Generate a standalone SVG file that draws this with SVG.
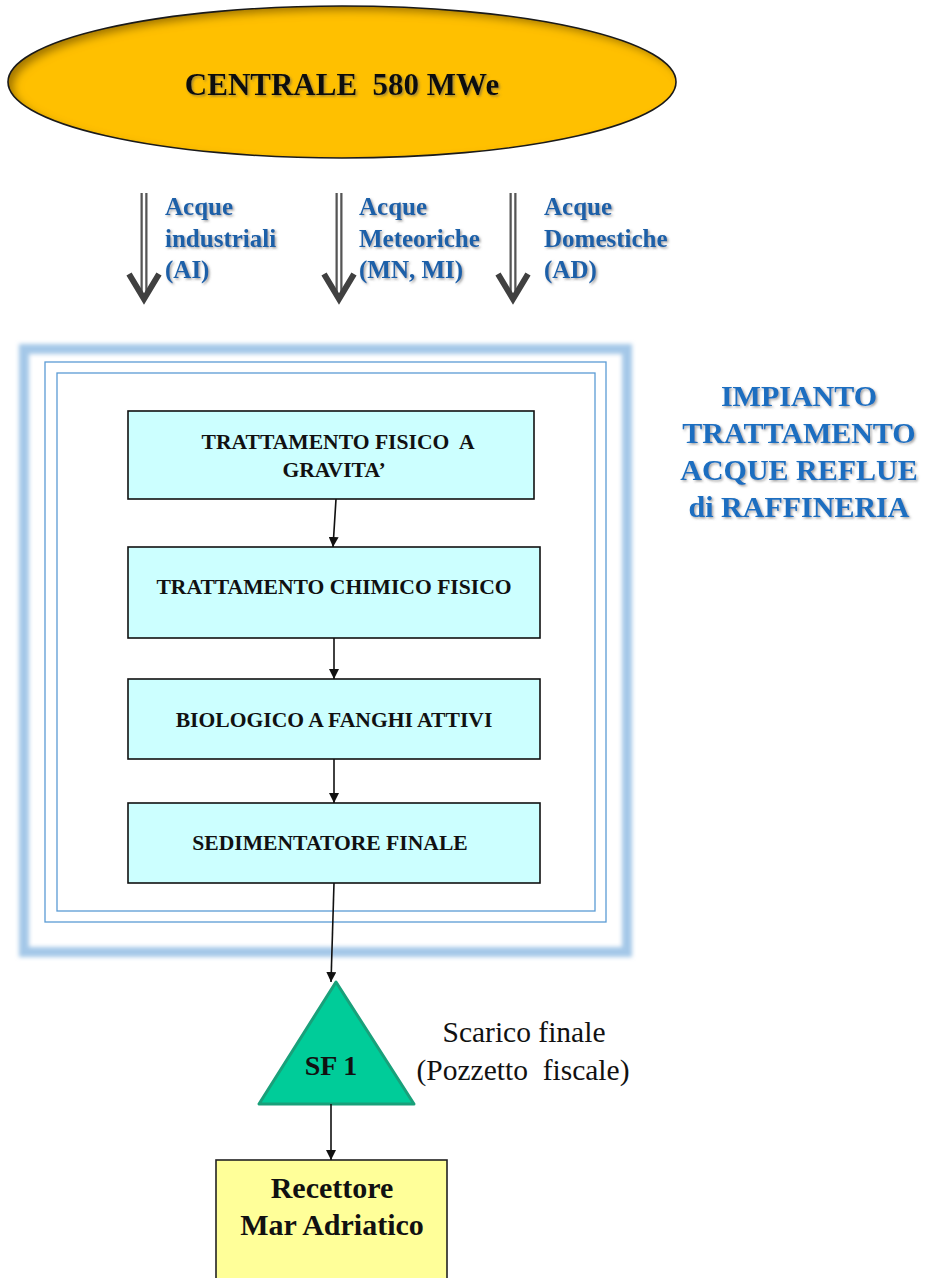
<svg xmlns="http://www.w3.org/2000/svg" width="925" height="1278" viewBox="0 0 925 1278">
<defs>
<style>
.serif{font-family:"Liberation Serif","Times New Roman",serif}
.b{font-weight:bold}
.box{fill:#CCFFFF;stroke:#111;stroke-width:1.6}
.boxt{font-family:"Liberation Serif","Times New Roman",serif;font-weight:bold;font-size:21.6px;fill:#111;text-anchor:middle}
.lbl{font-family:"Liberation Serif","Times New Roman",serif;font-weight:bold;font-size:25px;fill:#1E60A8}
.title{font-family:"Liberation Serif","Times New Roman",serif;font-weight:bold;font-size:30px;fill:#1A6EC0;text-anchor:middle}
.conn{stroke:#111;stroke-width:1.6;fill:none;marker-end:url(#ah)}
.shaft{stroke:#555;stroke-width:7;fill:none}
.shaftin{stroke:#fff;stroke-width:2.5;fill:none}
.chev{stroke:#404040;stroke-width:6;fill:none;stroke-linejoin:miter;stroke-linecap:butt}
</style>
<marker id="ah" viewBox="0 0 10 10" refX="10" refY="5" markerWidth="10" markerHeight="10" markerUnits="userSpaceOnUse" orient="auto">
<path d="M0,0 L10,5 L0,10 z" fill="#111"/>
</marker>
<filter id="inner" x="-5%" y="-10%" width="110%" height="120%">
<feOffset in="SourceAlpha" dx="6" dy="5" result="off"/>
<feGaussianBlur in="off" stdDeviation="4" result="blur"/>
<feComposite in="SourceAlpha" in2="blur" operator="out" result="inv"/>
<feFlood flood-color="#6b4a00" flood-opacity="0.75"/>
<feComposite in2="inv" operator="in" result="shadow"/>
<feMerge><feMergeNode in="SourceGraphic"/><feMergeNode in="shadow"/></feMerge>
</filter>
<filter id="ts" x="-10%" y="-30%" width="120%" height="160%">
<feDropShadow dx="1.5" dy="1.5" stdDeviation="1" flood-color="#555" flood-opacity="0.55"/>
</filter>
<filter id="glow" x="-5%" y="-5%" width="110%" height="110%">
<feGaussianBlur stdDeviation="2.2"/>
</filter>
</defs>
<rect width="925" height="1278" fill="#fff"/>

<g id="centrale">
<ellipse cx="342" cy="82" rx="334" ry="76" fill="#FFC000" filter="url(#inner)"/>
<ellipse cx="342" cy="82" rx="334" ry="76" fill="none" stroke="#1a1a1a" stroke-width="1.6"/>
<text x="342" y="95" class="serif b" font-size="31" text-anchor="middle" fill="#111" filter="url(#ts)" xml:space="preserve">CENTRALE  580 MWe</text>
</g>

<g id="flows">
<g id="flow-ai">
<line x1="144" y1="193" x2="144" y2="297" class="shaft"/>
<line x1="144" y1="193" x2="144" y2="295" class="shaftin"/>
<polyline points="129,274 144,299 159,274" class="chev"/>
<text class="lbl" filter="url(#ts)"><tspan x="165" y="215">Acque</tspan><tspan x="165" y="247">industriali</tspan><tspan x="165" y="278">(AI)</tspan></text>
</g>
<g id="flow-mn">
<line x1="339" y1="193" x2="339" y2="297" class="shaft"/>
<line x1="339" y1="193" x2="339" y2="295" class="shaftin"/>
<polyline points="324,274 339,299 354,274" class="chev"/>
<text class="lbl" filter="url(#ts)"><tspan x="359" y="215">Acque</tspan><tspan x="359" y="247">Meteoriche</tspan><tspan x="359" y="278">(MN, MI)</tspan></text>
</g>
<g id="flow-ad">
<line x1="513" y1="193" x2="513" y2="297" class="shaft"/>
<line x1="513" y1="193" x2="513" y2="295" class="shaftin"/>
<polyline points="498,274 513,299 528,274" class="chev"/>
<text class="lbl" filter="url(#ts)"><tspan x="544" y="215">Acque</tspan><tspan x="544" y="247">Domestiche</tspan><tspan x="544" y="278">(AD)</tspan></text>
</g>
</g>

<g id="impianto">
<rect x="24" y="349" width="603" height="603" fill="none" stroke="#A4C8E8" stroke-width="10" filter="url(#glow)"/>
<rect x="45" y="362" width="561" height="560" fill="none" stroke="#5B9BD5" stroke-width="1.3"/>
<rect x="57" y="373" width="538" height="538" fill="none" stroke="#5B9BD5" stroke-width="1.3"/>
</g>

<g id="title">
<text class="title" filter="url(#ts)"><tspan x="799" y="406">IMPIANTO</tspan><tspan x="799" y="443">TRATTAMENTO</tspan><tspan x="799" y="480">ACQUE REFLUE</tspan><tspan x="799" y="517">di RAFFINERIA</tspan></text>
</g>

<g id="fisico">
<rect x="128" y="411" width="406" height="88" class="box"/>
<text class="boxt" xml:space="preserve"><tspan x="338" y="449">TRATTAMENTO FISICO  A</tspan><tspan x="334" y="477">GRAVITA’</tspan></text>
</g>
<g id="chimico">
<rect x="128" y="547" width="412" height="91" class="box"/>
<text x="334" y="594" class="boxt">TRATTAMENTO CHIMICO FISICO</text>
</g>
<g id="biologico">
<rect x="128" y="679" width="412" height="80" class="box"/>
<text x="334" y="727" class="boxt">BIOLOGICO A FANGHI ATTIVI</text>
</g>
<g id="sedimentatore">
<rect x="128" y="803" width="412" height="80" class="box"/>
<text x="330" y="850" class="boxt">SEDIMENTATORE FINALE</text>
</g>

<g id="sf1">
<polygon points="336,982 259,1104 414,1104" fill="#00CC99" stroke="#19A07A" stroke-width="3" stroke-linejoin="round"/>
<text x="331" y="1075" class="serif b" font-size="28" text-anchor="middle" fill="#111">SF 1</text>
</g>
<g id="sf1-label">
<text class="serif" font-size="29.5" text-anchor="middle" fill="#111" xml:space="preserve"><tspan x="524" y="1042">Scarico finale</tspan><tspan x="523" y="1080">(Pozzetto  fiscale)</tspan></text>
</g>

<g id="recettore">
<rect x="216" y="1160" width="231" height="130" fill="#FFFF99" stroke="#222" stroke-width="1.6"/>
<text class="serif b" font-size="30" text-anchor="middle" fill="#111"><tspan x="332" y="1198">Recettore</tspan><tspan x="332" y="1235">Mar Adriatico</tspan></text>
</g>

<g id="connectors">
<line x1="336" y1="499" x2="333" y2="547" class="conn"/>
<line x1="334" y1="638" x2="334" y2="679" class="conn"/>
<line x1="334" y1="759" x2="334" y2="803" class="conn"/>
<line x1="334" y1="883" x2="331" y2="982" class="conn"/>
<line x1="331" y1="1104" x2="331" y2="1160" class="conn"/>
</g>
</svg>
